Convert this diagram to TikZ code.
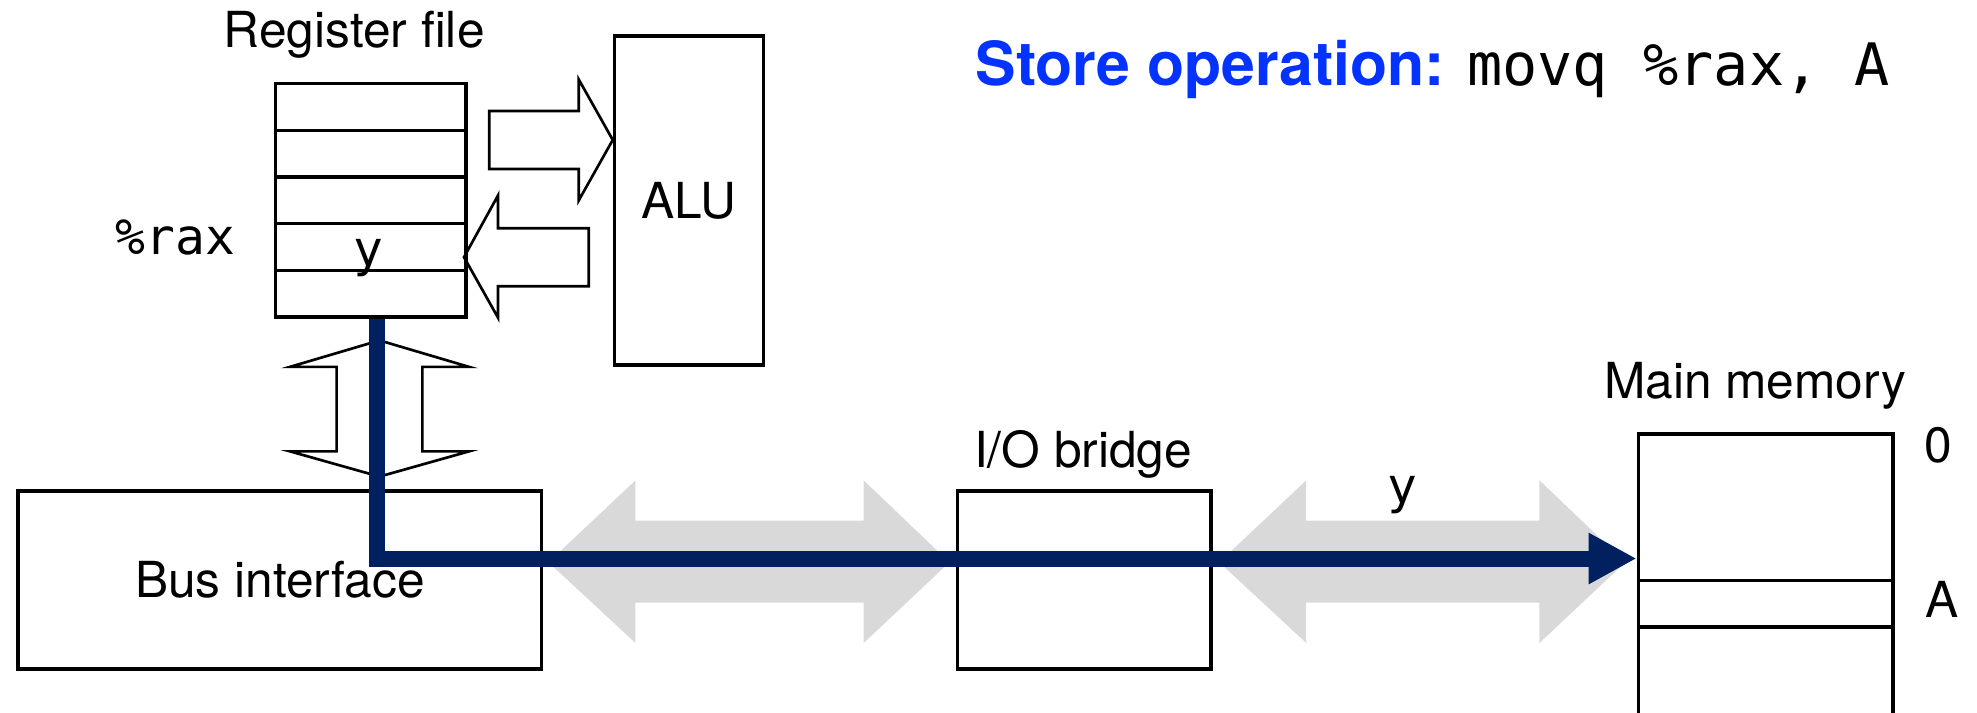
\documentclass[tikz,border=0pt]{standalone}
\usepackage{fontspec}
\setmainfont{TeX Gyre Heros}
\setmonofont{DejaVu Sans Mono}
\usetikzlibrary{arrows.meta}
\definecolor{titleblue}{RGB}{4,51,255}
\definecolor{busnavy}{RGB}{0,32,96}
\definecolor{busgrey}{RGB}{217,217,217}
\tikzset{
  box/.style={draw, line width=0.8pt, inner sep=0pt, anchor=north west},
  fatarrow/.style={draw, line width=0.6pt, line join=miter},
  mono/.style={font=\fontsize{11.2}{13}\selectfont\ttfamily},
}
\begin{document}
\begin{tikzpicture}[x=0.01cm, y=-0.01cm, every node/.style={font=\fontsize{11.2}{13}\selectfont}]
\useasboundingbox (0,0) rectangle (1568,565);

\foreach \a/\b in {435/753, 967/1289}
  \fill[busgrey] (\a,446) -- (\a+69,381) -- (\a+69,413) -- (\b-68,413) -- (\b-68,381) -- (\b,446)
    -- (\b-68,510) -- (\b-68,478) -- (\a+69,478) -- (\a+69,510) -- cycle;

\foreach \i in {1,...,5}
  \node[box, minimum width=1.51cm, minimum height=0.37cm] (reg\i) at (217,28+37*\i) {};
\node[anchor=base] (regname) at (281,38) {Register file};
\node[mono, anchor=base] (raxname) at (139,202) {\%rax};
\node[mono, anchor=base] (raxval) at (292,211) {y};

\node[box, minimum width=1.18cm, minimum height=2.61cm] (alu) at (486,27) {ALU};

\draw[fatarrow] (388,88) -- (459,88) -- (459,63) -- (486,111) -- (459,159) -- (459,134) -- (388,134) -- cycle;
\draw[fatarrow] (467,181) -- (395,181) -- (395,155) -- (368,204) -- (395,252) -- (395,227) -- (467,227) -- cycle;
\draw[fatarrow] (301,270) -- (372,291) -- (335,291) -- (335,358) -- (372,358) -- (301,378)
  -- (230,358) -- (267,358) -- (267,291) -- (230,291) -- cycle;

\node[box, minimum width=4.15cm, minimum height=1.41cm] (bus) at (13,388) {Bus interface};

\node[box, minimum width=2.01cm, minimum height=1.41cm] (bridge) at (758,388) {};
\node[anchor=base] (bridgename) at (859,371) {I/O bridge};

\node[box, minimum width=2.02cm, minimum height=1.16cm] (mem0) at (1298,343) {};
\node[box, minimum width=2.02cm, minimum height=0.37cm] (memA) at (1298,459) {};
\node[box, minimum width=2.02cm, minimum height=1.20cm] (memrest) at (1298,496) {};
\node[anchor=base] (memname) at (1392,316) {Main memory};
\node[anchor=base] (addr0) at (1537,367) {0};
\node[anchor=base] (addrA) at (1540,490) {A};

\node[mono, anchor=base] (busval) at (1112,399) {y};

\coordinate (turn) at (299,443);
\draw[busnavy, line width=0.127cm, -{Triangle[length=0.38cm,width=0.38cm]}]
  (reg5.south -| turn) -- (turn) -- (turn -| mem0.west);

\node[anchor=base west, inner sep=0pt, font=\fontsize{13.7}{16}\selectfont] (title) at (773,68)
  {\textcolor{titleblue}{\bfseries Store operation:} {\fontsize{13.2}{16}\selectfont\ttfamily movq \%rax, A}};

\end{tikzpicture}
\end{document}
